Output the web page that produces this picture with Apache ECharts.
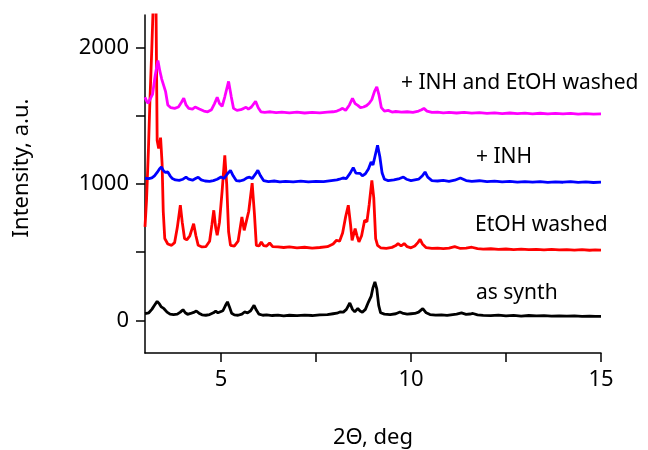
<!DOCTYPE html>
<html>
<head>
    <meta charset="utf-8">
    <title>XRD</title>
    <script src="https://cdn.jsdelivr.net/npm/echarts@6/dist/echarts.min.js"></script>
</head>
<body style="margin:0">
<div id="main" style="width: 648px;height:450px;"></div>
<script type="text/javascript">
    // tick labels
    var xTicks = [5, 7.5, 10, 12.5, 15];
    var xLabels = [5, 10, 15];
    var yTicks = [0, 500, 1000, 1500, 2000];
    var yLabels = [0, 1000, 2000];

    // patterns, [2theta, intensity] (already offset)
    var asSynth = [
        [3.0,49],[3.05,45],[3.1,55],[3.18,80],[3.25,110],[3.32,139],[3.38,120],[3.43,98],[3.5,85],[3.58,60],
        [3.66,45],[3.75,42],[3.85,45],[3.93,60],[4.0,78],[4.06,55],[4.12,44],[4.2,50],[4.28,58],[4.35,68],
        [4.42,52],[4.5,40],[4.6,37],[4.7,42],[4.8,55],[4.86,68],[4.92,55],[4.97,51],[5.05,70],[5.12,110],
        [5.17,135],[5.22,100],[5.28,52],[5.35,40],[5.45,37],[5.55,45],[5.62,61],[5.7,55],[5.78,70],[5.87,110],
        [5.93,75],[6.0,45],[6.1,37],[6.2,40],[6.35,35],[6.5,38],[6.65,33],[6.8,37],[7.0,34],[7.2,38],
        [7.4,35],[7.6,40],[7.8,42],[7.95,48],[8.05,52],[8.13,61],[8.22,60],[8.3,80],[8.39,127],[8.46,80],
        [8.52,62],[8.6,86],[8.66,68],[8.72,59],[8.8,80],[8.88,134],[8.95,175],[9.0,240],[9.05,281],[9.1,230],
        [9.15,110],[9.2,55],[9.3,45],[9.45,42],[9.6,48],[9.71,61],[9.8,50],[9.9,45],[10.0,48],[10.1,50],
        [10.2,60],[10.31,86],[10.4,55],[10.5,42],[10.65,38],[10.8,40],[10.95,36],[11.1,42],[11.2,45],[11.33,54],
        [11.45,44],[11.55,46],[11.63,50],[11.75,40],[11.9,36],[12.1,34],[12.3,38],[12.5,33],[12.7,36],[12.9,31],
        [13.1,35],[13.3,32],[13.5,34],[13.7,30],[13.9,33],[14.1,30],[14.3,32],[14.5,29],[14.7,31],[14.85,28],[15.0,29]
    ];
    var etohWashed = [
        [3.0,685],[3.04,880],[3.09,1250],[3.13,1614],[3.18,2000],[3.22,2348],[3.26,2700],[3.29,2300],[3.32,1320],[3.36,1260],
        [3.41,1340],[3.45,1150],[3.48,800],[3.52,600],[3.6,560],[3.7,550],[3.78,570],[3.85,680],[3.93,844],[3.98,720],
        [4.04,600],[4.1,590],[4.18,620],[4.28,709],[4.34,620],[4.4,550],[4.5,538],[4.6,540],[4.7,580],[4.76,700],
        [4.81,807],[4.86,680],[4.9,624],[4.96,720],[5.03,950],[5.1,1210],[5.15,1000],[5.2,650],[5.25,550],[5.35,545],
        [5.45,580],[5.55,758],[5.61,660],[5.66,648],[5.73,800],[5.82,1007],[5.88,780],[5.93,550],[6.0,545],[6.06,574],
        [6.12,548],[6.2,545],[6.28,567],[6.36,540],[6.5,538],[6.65,534],[6.8,538],[7.0,532],[7.2,536],[7.4,530],
        [7.6,534],[7.8,540],[7.95,560],[8.04,587],[8.12,580],[8.2,640],[8.28,760],[8.35,844],[8.41,700],[8.45,587],
        [8.53,673],[8.58,620],[8.63,575],[8.7,620],[8.78,734],[8.84,723],[8.9,850],[8.97,1027],[9.02,900],[9.07,600],
        [9.12,550],[9.2,532],[9.35,528],[9.5,535],[9.6,548],[9.66,563],[9.74,545],[9.82,563],[9.9,540],[10.0,532],
        [10.1,545],[10.18,570],[10.24,594],[10.3,560],[10.4,533],[10.55,528],[10.7,530],[10.85,526],[11.0,530],[11.15,540],
        [11.3,527],[11.45,530],[11.6,536],[11.75,526],[11.9,522],[12.1,525],[12.3,520],[12.5,523],[12.7,519],[12.9,522],
        [13.1,518],[13.3,521],[13.5,517],[13.7,520],[13.9,516],[14.1,519],[14.3,515],[14.5,518],[14.7,514],[14.85,517],[15.0,515]
    ];
    var plusInh = [
        [3.0,1042],[3.05,1038],[3.1,1040],[3.18,1045],[3.25,1060],[3.32,1085],[3.38,1110],[3.43,1125],[3.48,1100],[3.53,1085],
        [3.6,1088],[3.66,1060],[3.72,1040],[3.8,1030],[3.9,1027],[4.0,1035],[4.08,1051],[4.15,1035],[4.25,1028],[4.33,1040],
        [4.4,1050],[4.48,1030],[4.58,1022],[4.7,1020],[4.8,1025],[4.9,1035],[5.0,1051],[5.08,1040],[5.17,1075],[5.25,1100],
        [5.32,1060],[5.4,1025],[5.5,1022],[5.6,1030],[5.68,1045],[5.75,1050],[5.82,1040],[5.9,1070],[5.97,1100],[6.04,1060],
        [6.12,1025],[6.25,1018],[6.4,1022],[6.55,1015],[6.7,1020],[6.9,1016],[7.1,1021],[7.3,1015],[7.5,1020],[7.7,1017],
        [7.9,1025],[8.05,1030],[8.12,1035],[8.21,1044],[8.3,1040],[8.4,1080],[8.48,1120],[8.55,1080],[8.6,1070],[8.66,1078],
        [8.72,1060],[8.8,1075],[8.88,1110],[8.95,1161],[9.0,1140],[9.05,1200],[9.12,1284],[9.18,1200],[9.24,1080],[9.3,1035],
        [9.4,1025],[9.55,1030],[9.7,1040],[9.8,1051],[9.88,1035],[10.0,1025],[10.1,1030],[10.2,1035],[10.3,1060],[10.37,1088],
        [10.44,1050],[10.55,1025],[10.7,1022],[10.85,1026],[11.0,1020],[11.15,1028],[11.3,1044],[11.45,1025],[11.6,1020],[11.8,1024],
        [12.0,1017],[12.2,1021],[12.4,1015],[12.6,1019],[12.8,1014],[13.0,1018],[13.2,1013],[13.4,1017],[13.6,1012],[13.8,1016],
        [14.0,1013],[14.2,1017],[14.4,1012],[14.6,1015],[14.8,1011],[15.0,1014]
    ];
    var inhEtoh = [
        [3.0,1636],[3.04,1610],[3.08,1592],[3.13,1600],[3.2,1660],[3.27,1800],[3.34,1907],[3.39,1830],[3.44,1770],[3.49,1783],
        [3.54,1680],[3.6,1580],[3.68,1560],[3.78,1555],[3.88,1565],[3.96,1600],[4.02,1630],[4.08,1580],[4.15,1555],[4.25,1550],
        [4.32,1565],[4.37,1577],[4.43,1550],[4.55,1535],[4.65,1530],[4.75,1545],[4.83,1590],[4.9,1636],[4.96,1590],[5.03,1570],
        [5.1,1640],[5.2,1753],[5.27,1640],[5.33,1555],[5.42,1540],[5.52,1545],[5.6,1555],[5.66,1563],[5.72,1550],[5.8,1565],
        [5.91,1607],[5.98,1560],[6.05,1530],[6.15,1526],[6.3,1530],[6.45,1524],[6.6,1528],[6.8,1522],[7.0,1527],[7.2,1521],
        [7.4,1526],[7.6,1522],[7.8,1528],[7.95,1530],[8.05,1535],[8.13,1545],[8.2,1555],[8.28,1540],[8.38,1580],[8.46,1629],
        [8.53,1590],[8.6,1577],[8.67,1560],[8.75,1565],[8.83,1575],[8.9,1592],[8.97,1620],[9.04,1680],[9.1,1712],[9.16,1650],
        [9.22,1560],[9.3,1535],[9.4,1540],[9.5,1528],[9.6,1532],[9.75,1527],[9.9,1530],[10.05,1526],[10.2,1535],[10.28,1545],
        [10.34,1555],[10.42,1535],[10.55,1525],[10.7,1528],[10.85,1522],[11.0,1526],[11.2,1521],[11.4,1525],[11.6,1520],[11.8,1523],
        [12.0,1518],[12.2,1522],[12.4,1517],[12.6,1521],[12.8,1516],[13.0,1520],[13.2,1515],[13.4,1519],[13.6,1514],[13.8,1518],
        [14.0,1515],[14.2,1518],[14.4,1513],[14.6,1517],[14.8,1513],[15.0,1515]
    ];

    var font = '"Noto Sans", "Open Sans", sans-serif';
    var myChart = echarts.init(document.getElementById('main'));

    function trace(name, data, color) {
        return {
            name: name,
            type: 'line',
            data: data,
            symbol: 'none',
            clip: true,
            lineStyle: { color: color, width: 2.8 }
        };
    }

    function plain(v) { return String(v); }

    var option = {
        animation: false,
        backgroundColor: '#fff',
        grid: { left: 145, right: 47, top: 15, bottom: 97 },
        xAxis: {
            type: 'value',
            min: 3,
            max: 15,
            splitLine: { show: false },
            axisLine: { onZero: false, lineStyle: { color: '#000', width: 1.5 } },
            axisTick: { customValues: xTicks, length: 9, lineStyle: { color: '#000', width: 1.5 } },
            axisLabel: { customValues: xLabels, formatter: plain, margin: 16, color: '#000', fontSize: 22, fontFamily: font }
        },
        yAxis: {
            type: 'value',
            min: -240,
            max: 2240,
            splitLine: { show: false },
            axisLine: { show: true, onZero: false, lineStyle: { color: '#000', width: 1.5 } },
            axisTick: { show: true, customValues: yTicks, length: 9, lineStyle: { color: '#000', width: 1.5 } },
            axisLabel: { customValues: yLabels, formatter: plain, margin: 16, color: '#000', fontSize: 22, fontFamily: font }
        },
        graphic: [
            { type: 'text', x: 22, y: 168, rotation: Math.PI / 2, style: { text: 'Intensity, a.u.', fill: '#000', font: '22px ' + font, align: 'center', verticalAlign: 'middle' } },
            { type: 'text', x: 373, y: 438, style: { text: '2\u0398, deg', fill: '#000', font: '22px ' + font, align: 'center', verticalAlign: 'middle' } },
            { type: 'text', x: 401, y: 83, style: { text: '+ INH and EtOH washed', fill: '#000', font: '21px ' + font, verticalAlign: 'middle' } },
            { type: 'text', x: 476, y: 157, style: { text: '+ INH', fill: '#000', font: '21px ' + font, verticalAlign: 'middle' } },
            { type: 'text', x: 475, y: 225, style: { text: 'EtOH washed', fill: '#000', font: '21px ' + font, verticalAlign: 'middle' } },
            { type: 'text', x: 476, y: 293, style: { text: 'as synth', fill: '#000', font: '21px ' + font, verticalAlign: 'middle' } }
        ],
        series: [
            trace('as synth', asSynth, '#000000'),
            trace('EtOH washed', etohWashed, '#ff0000'),
            trace('+ INH', plusInh, '#0000ff'),
            trace('+ INH and EtOH washed', inhEtoh, '#ff00ff')
        ]
    };

    myChart.setOption(option);
</script>
</body>
</html>
